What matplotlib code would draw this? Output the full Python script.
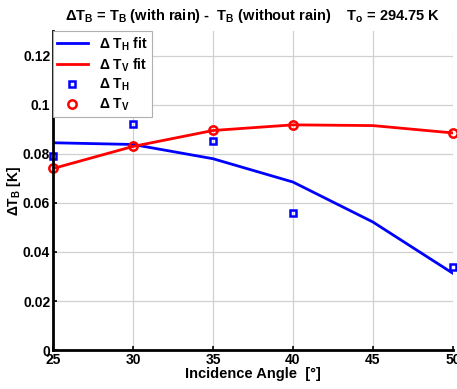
import numpy as np
import matplotlib

matplotlib.use("Agg")
import matplotlib.pyplot as plt

plt.rcParams["font.family"] = ["Liberation Sans", "DejaVu Sans"]
plt.rcParams["font.weight"] = "bold"
plt.rcParams["axes.titleweight"] = "bold"
plt.rcParams["axes.labelweight"] = "bold"
plt.rcParams["mathtext.fontset"] = "custom"
plt.rcParams["mathtext.rm"] = "Liberation Sans:bold"
plt.rcParams["mathtext.it"] = "Liberation Sans:bold"
plt.rcParams["mathtext.bf"] = "Liberation Sans:bold"

# incidence angles
angles_fit = [25, 30, 35, 40, 45, 50]
th_fit = [0.0845, 0.0838, 0.0780, 0.0685, 0.0522, 0.0313]
tv_fit = [0.0740, 0.0830, 0.0895, 0.0918, 0.0915, 0.0885]

angles_meas = [25, 30, 35, 40, 50]
th_meas = [0.0793, 0.0922, 0.0852, 0.0557, 0.0339]
tv_meas = [0.0742, 0.0830, 0.0897, 0.0917, 0.0884]

fig = plt.figure(figsize=(4.57, 3.89), dpi=100)
ax = fig.add_axes([0.116, 0.1, 0.875, 0.82])

ax.plot(angles_fit, th_fit, "-", color="#0000ff", lw=2, label=r"$\Delta$ T$_\mathrm{H}$ fit")
ax.plot(angles_fit, tv_fit, "-", color="#ff0000", lw=2, label=r"$\Delta$ T$_\mathrm{V}$ fit")
ax.plot(angles_meas, th_meas, "s", ms=4.5, mfc="none", mec="#0000ff", mew=1.8,
        label=r"$\Delta$ T$_\mathrm{H}$", clip_on=False)
ax.plot(angles_meas, tv_meas, "o", ms=6, mfc="none", mec="#ff0000", mew=1.8,
        label=r"$\Delta$ T$_\mathrm{V}$", clip_on=False)

ax.set_xlim(25, 50)
ax.set_ylim(0, 0.13)
ax.set_xticks([25, 30, 35, 40, 45, 50])
ax.set_yticks([0, 0.02, 0.04, 0.06, 0.08, 0.1, 0.12])
ax.set_yticklabels(["0", "0.02", "0.04", "0.06", "0.08", "0.1", "0.12"])
ax.tick_params(labelsize=10, length=3, direction="in", width=1.2, pad=2)
ax.grid(color="#d0d0d0", lw=0.9)
ax.set_axisbelow(True)
for s in ["top", "right"]:
    ax.spines[s].set_visible(False)
for s in ["left", "bottom"]:
    ax.spines[s].set_linewidth(2)

ax.set_xlabel(r"Incidence Angle  [°]", fontsize=10.5, labelpad=0)
ax.set_ylabel(r"$\Delta$T$_\mathrm{B}$ [K]", fontsize=10, labelpad=0)
ax.set_title(r"$\Delta$T$_\mathrm{B}$ = T$_\mathrm{B}$ (with rain) -  T$_\mathrm{B}$ (without rain)    T$_\mathrm{o}$ = 294.75 K",
             fontsize=10.5, pad=8)

leg = ax.legend(loc="upper left", fontsize=10, frameon=True, fancybox=False,
                edgecolor="#b0b0b0", framealpha=1, borderaxespad=0,
                handlelength=2.2, labelspacing=0.25, borderpad=0.3)
leg.get_frame().set_linewidth(0.8)

fig.savefig("out.png", dpi=100)
